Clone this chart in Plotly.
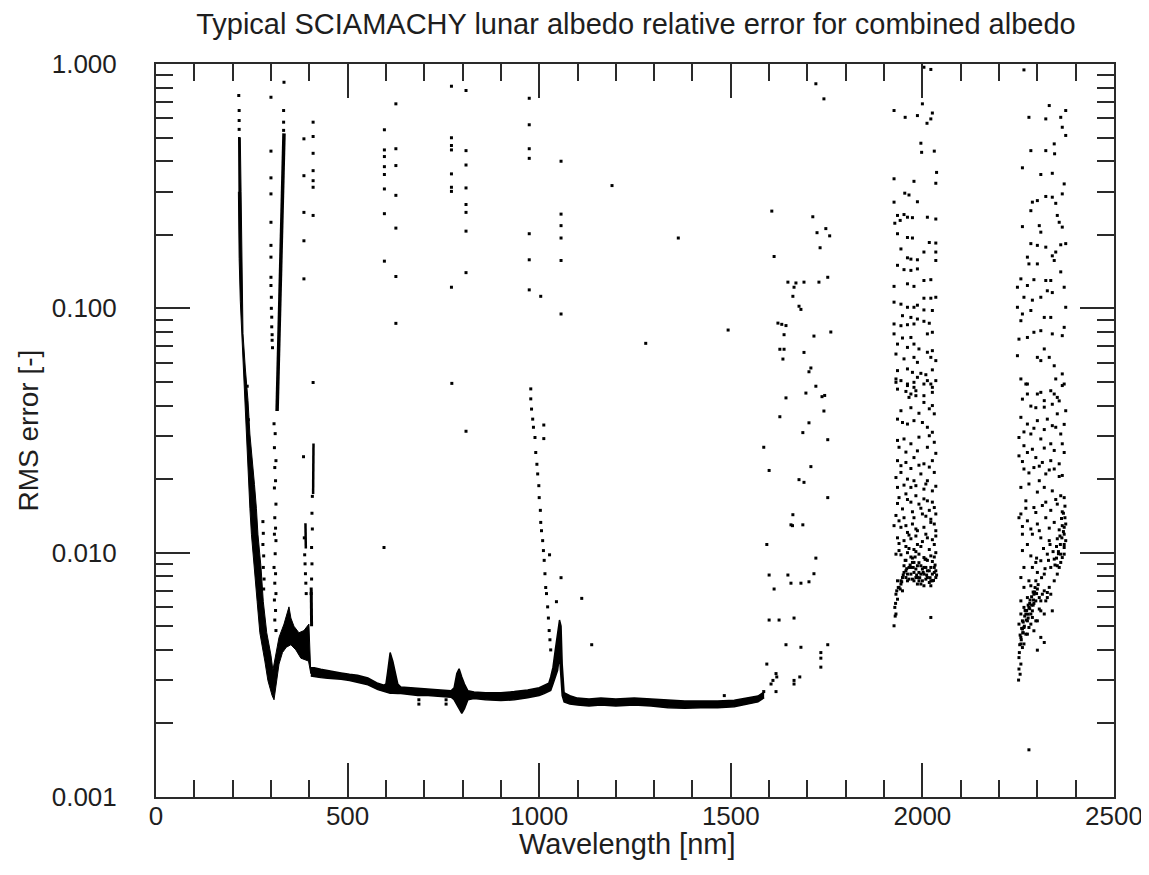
import plotly.graph_objects as go

# ---------------- data (wavelength nm, RMS error) ----------------
# dense UV envelope (left branch + 300-400 nm hump)
uv_env_nm = [214, 220, 222, 224, 227, 227, 233, 240, 245, 252, 257, 262, 266, 274, 280, 289, 300, 305,
             313, 321, 334, 342, 347, 352, 360, 373, 386, 399, 402, 404,
             404, 398, 378, 365, 352, 340, 330, 321, 313, 308, 303,
             298, 292, 284, 271, 264, 256, 249, 245, 242, 240, 236, 231, 227, 223, 220, 217, 215]
uv_env_err = [0.5, 0.5, 0.3, 0.16, 0.107, 0.079, 0.057, 0.042, 0.0306, 0.0237, 0.019, 0.0152, 0.0119, 0.0087, 0.0063, 0.0047, 0.0038, 0.0033,
              0.0038, 0.0045, 0.0051, 0.0056, 0.006, 0.0054, 0.005, 0.0047, 0.0048, 0.0051, 0.004, 0.0034,
              0.0032, 0.0036, 0.0037, 0.004, 0.0042, 0.0041, 0.0039, 0.0035, 0.0029, 0.0025, 0.0026,
              0.0028, 0.003, 0.0036, 0.0047, 0.0063, 0.0087, 0.0119, 0.0152, 0.019, 0.0237, 0.0306, 0.042, 0.057, 0.079, 0.107, 0.16, 0.3]

# dense baseline band 400-1590 nm
base_nm = [404, 413, 430, 448, 465, 483, 505, 526, 553, 579, 595, 600, 605, 611, 618, 625, 631, 639, 660, 683,
           710, 743, 770, 778, 785, 791, 798, 805, 814, 830, 860, 900, 935, 970, 1000, 1013, 1025, 1030, 1036,
           1042, 1048, 1053, 1057, 1060, 1065, 1080, 1100, 1130, 1161, 1200, 1248, 1292, 1336, 1380, 1422,
           1466, 1509, 1545, 1571, 1587]
base_hi = [0.00338, 0.00338, 0.00333, 0.0033, 0.00327, 0.00322, 0.00318, 0.00315, 0.00307, 0.00292, 0.00287, 0.0029,
           0.0033, 0.0039, 0.0036, 0.0032, 0.0029, 0.00282, 0.0028, 0.00279, 0.00277, 0.00274, 0.00272, 0.0028,
           0.0032, 0.00335, 0.0031, 0.0029, 0.00272, 0.00269, 0.00267, 0.00267, 0.0027, 0.00274, 0.0028, 0.00287,
           0.00292, 0.0031, 0.0034, 0.004, 0.0048, 0.0053, 0.005, 0.0035, 0.00267, 0.0026, 0.00254, 0.00252,
           0.00254, 0.00252, 0.00254, 0.00252, 0.00249, 0.00247, 0.00247, 0.00247, 0.00249, 0.00254, 0.00259, 0.00269]
base_lo = [0.00313, 0.00311, 0.00308, 0.00306, 0.00305, 0.00303, 0.003, 0.00294, 0.00288, 0.00275, 0.0027, 0.0027,
           0.00268, 0.00266, 0.00266, 0.00265, 0.00265, 0.00265, 0.00263, 0.0026, 0.0026, 0.00258, 0.00256, 0.0025,
           0.0024, 0.0023, 0.0022, 0.0023, 0.0025, 0.00253, 0.0025, 0.00248, 0.0025, 0.00255, 0.0026, 0.00265,
           0.0027, 0.00273, 0.0029, 0.0031, 0.0033, 0.0038, 0.003, 0.0026, 0.00245, 0.0024, 0.00238, 0.00236,
           0.00238, 0.00236, 0.00238, 0.00236, 0.00232, 0.00231, 0.00232, 0.00232, 0.00234, 0.00241, 0.00245, 0.00255]

# dense vertical streaks
colA_nm = [334, 333, 332, 330, 328, 326, 324, 321, 319, 317, 316]
colA_err = [0.52, 0.45, 0.35, 0.25, 0.18, 0.13, 0.1, 0.075, 0.055, 0.045, 0.038]
colB_nm = [411, 411, 410]
colB_err = [0.028, 0.022, 0.0174]
colC_nm = [390, 391]
colC_err = [0.0132, 0.0104]
colD_nm = [405, 406, 406]
colD_err = [0.0072, 0.006, 0.005]

# sparse points, UV
uv_nm = [216, 217, 217, 217, 334, 333, 333, 333,
         300, 300, 300, 300, 300, 300, 300, 300, 300, 301, 301, 302, 302, 303, 303, 304,
         308, 311, 309, 313, 310, 312, 309, 313, 310, 312, 309, 313, 311, 308, 312, 310, 313, 309, 312, 310, 313,
         279, 280, 279, 281, 280, 282, 281,
         386, 386, 386, 386, 386, 385, 387, 388, 389, 390, 391, 392,
         410, 410, 410, 410, 410, 410, 410, 410, 408, 407, 408, 406, 407, 406, 405,
         262, 266, 258, 270, 251, 247, 244, 241, 238]
uv_err = [0.743, 0.645, 0.587, 0.54, 0.842, 0.645, 0.578, 0.535,
          0.731, 0.44, 0.342, 0.294, 0.225, 0.181, 0.162, 0.134, 0.124, 0.111, 0.1, 0.092, 0.084, 0.078, 0.074, 0.069,
          0.0337, 0.0307, 0.0269, 0.0238, 0.0223, 0.0197, 0.0184, 0.0158, 0.0139, 0.0126, 0.0119, 0.0112, 0.0099,
          0.0087, 0.0082, 0.0075, 0.0068, 0.0064, 0.0058, 0.0053, 0.0048,
          0.0134, 0.012, 0.0108, 0.0097, 0.0087, 0.0078, 0.0071,
          0.494, 0.349, 0.247, 0.189, 0.132, 0.0247, 0.0115, 0.0098, 0.009, 0.0082, 0.0075, 0.0068,
          0.578, 0.505, 0.431, 0.366, 0.333, 0.313, 0.24, 0.0497, 0.017, 0.0145, 0.0125, 0.0105, 0.009, 0.0078, 0.0068,
          0.0092, 0.0081, 0.0125, 0.0066, 0.0175, 0.0215, 0.027, 0.035, 0.048]

# sparse points, visible / near-IR
vis_nm = [596, 596, 596, 596, 596, 596, 596, 596, 595,
          626, 626, 626, 626, 626, 626, 626,
          771, 771, 771, 771, 771, 771, 771, 771, 772,
          809, 809, 809, 809, 809, 809, 809, 809, 809,
          974, 974, 974, 974, 974, 974, 974, 1004,
          1057, 1057, 1057, 1057, 1057, 1057,
          1190, 1363, 1278, 1493,
          978, 978, 980, 983, 985, 989, 991, 994, 996, 999, 1000, 1003, 1004, 1006, 1009, 1011, 1013, 1015,
          1017, 1019, 1022, 1024, 1026, 1028, 1030,
          1012, 1012, 1027, 1057, 1045, 1111, 1137, 686, 686, 757, 757, 1483]
vis_err = [0.538, 0.445, 0.418, 0.38, 0.353, 0.308, 0.244, 0.156, 0.0105,
           0.687, 0.45, 0.384, 0.29, 0.213, 0.135, 0.0868,
           0.811, 0.499, 0.464, 0.445, 0.355, 0.313, 0.301, 0.122, 0.0493,
           0.779, 0.442, 0.386, 0.311, 0.266, 0.247, 0.207, 0.14, 0.0314,
           0.724, 0.564, 0.45, 0.411, 0.202, 0.158, 0.119, 0.112,
           0.4, 0.243, 0.218, 0.194, 0.157, 0.0948,
           0.318, 0.194, 0.0719, 0.0815,
           0.0468, 0.0426, 0.0387, 0.0352, 0.0326, 0.0296, 0.0257, 0.023, 0.021, 0.0188, 0.0168, 0.0149, 0.0133,
           0.0123, 0.0112, 0.0102, 0.0093, 0.0082, 0.0072, 0.0068, 0.006, 0.0054, 0.0048, 0.0044, 0.004,
           0.0333, 0.0293, 0.0098, 0.0079, 0.0063, 0.0065, 0.0042, 0.0025, 0.0024, 0.0025, 0.0024, 0.0026]

# sparse points 1580-1760 nm
nir_nm = [1722, 1743, 1607, 1714, 1725, 1748, 1758, 1733, 1613, 1649, 1670, 1691, 1730, 1753, 1665, 1662, 1678,
          1683, 1623, 1633, 1644, 1639, 1717, 1761, 1628, 1639, 1691, 1636, 1709, 1704, 1722, 1696, 1745, 1644,
          1738, 1743, 1628, 1704, 1688, 1753, 1586, 1709, 1600, 1678, 1691, 1753, 1662, 1661, 1657, 1688, 1594,
          1722, 1600, 1649, 1717, 1657, 1683, 1704, 1613, 1600, 1626, 1665, 1644, 1683, 1753, 1735, 1735, 1735,
          1594, 1618, 1610, 1665, 1665, 1680, 1618, 1586, 1620, 1605]
nir_err = [0.83, 0.72, 0.25, 0.237, 0.204, 0.212, 0.198, 0.177, 0.163, 0.128, 0.127, 0.128, 0.128, 0.134, 0.122,
           0.112, 0.102, 0.099, 0.087, 0.086, 0.085, 0.078, 0.077, 0.08, 0.068, 0.068, 0.066, 0.062, 0.057, 0.055,
           0.048, 0.045, 0.044, 0.043, 0.0435, 0.038, 0.036, 0.034, 0.031, 0.029, 0.027, 0.0225, 0.0217, 0.0199,
           0.0194, 0.0168, 0.0143, 0.0129, 0.013, 0.013, 0.0108, 0.0095, 0.0081, 0.0081, 0.0082, 0.0075, 0.0075,
           0.0076, 0.0071, 0.0053, 0.0053, 0.0054, 0.0042, 0.0041, 0.0042, 0.0039, 0.0037, 0.0034, 0.0035, 0.0032,
           0.003, 0.003, 0.0029, 0.0031, 0.0027, 0.0027, 0.0031, 0.0029]

# cluster 1920-2040 nm
sw1_nm = [2004, 2022, 2000, 1926, 1955, 1987, 2026, 2022, 2012, 1996, 1998, 2031, 2037, 1926, 1978, 2035, 1954,
          1965, 1926, 1987, 1935, 1952, 1961, 1974, 2013, 2035, 1928, 1942, 1935, 1961, 1974, 2018, 2035, 1944,
          2004, 2035, 1961, 1970, 1987, 2035, 1935, 1952, 1970, 1987, 2004, 2022, 1926, 1961, 1978, 2004, 2022,
          2035, 1926, 1944, 1961, 1978, 1987, 2004, 2026, 1948, 1970, 1987, 1926, 1944, 1961, 1978, 2004, 2018,
          2026, 2013, 1926, 1948, 1970, 1935, 1961, 1978, 1991, 2026, 2013, 1931, 1952, 1978, 1987, 2022, 2035,
          1935, 1961, 1974, 1996, 2009, 2026, 1931, 1944, 1961, 1978, 1987, 2013, 2022, 2035, 1935, 1957, 1970,
          1983, 2004, 2026,
          1931, 1961, 1978, 2004, 2026, 1965, 1983, 2004, 2026, 1935, 1948, 1961, 1978, 2000, 2013, 2026, 2031,
          1939, 1952, 1970, 1987, 2013, 2031, 1935, 1957, 1978, 2004, 2026, 1931, 1944, 1961, 1978, 1996, 2013,
          2031, 1935, 1970, 2004, 2026, 1939, 1957, 1970, 1991, 2013, 2031, 1931, 1952, 1978, 2000, 2022, 1926,
          1944, 1961, 1974, 1987, 2004, 2022, 2035, 1935, 1952, 1970, 1987, 2013, 2031, 1931, 1939, 1961, 1978,
          1991, 2004, 2022, 2035,
          1948, 1957, 1965, 1970, 1978, 1983, 1987, 1991, 1996, 2000, 2004, 2009, 2013, 2018, 2022, 2026, 2031,
          2035, 1952, 1961, 1974, 1987, 2004, 2022, 1978, 1996, 1952, 1961, 1970, 1978, 1983, 1991, 1996, 2000,
          2009, 2013, 2018, 2026, 2031, 2035, 1974, 1987, 2004, 2022, 1944, 1957, 1965,
          1935, 1939, 1931, 1935, 1928, 1931, 1926, 1933, 1944, 1948, 2022,
          1944, 1957, 1970, 1996, 2013, 2031, 1939, 1965, 1983, 2009, 2026, 1948, 1974, 1996, 2018, 2035, 1935,
          1961, 1983, 2004, 2026, 1952, 1983, 2009, 2035, 1944, 1970, 1991, 2018, 2035, 1957, 1935, 1991, 2018,
          1944, 1970, 1991, 2018,
          1957, 1974, 1991, 2009, 2026, 1965, 1983, 2000, 2018, 2035, 1939, 1957, 1983, 2009, 2031,
          1950, 1959, 1968, 1976, 1985, 1993, 2002, 2011, 2020, 2029, 2037, 1942, 1946, 1930, 1929, 1937, 1955,
          1981, 2007, 2033]
sw1_err = [0.97, 0.95, 0.687, 0.645, 0.605, 0.615, 0.63, 0.596, 0.572, 0.474, 0.435, 0.44, 0.36, 0.339, 0.331,
           0.325, 0.296, 0.291, 0.272, 0.273, 0.24, 0.242, 0.236, 0.235, 0.236, 0.232, 0.223, 0.229, 0.202, 0.195,
           0.194, 0.186, 0.185, 0.175, 0.17, 0.17, 0.161, 0.159, 0.158, 0.157, 0.15, 0.144, 0.143, 0.145, 0.13,
           0.131, 0.123, 0.126, 0.123, 0.11, 0.11, 0.111, 0.106, 0.104, 0.101, 0.101, 0.103, 0.0985, 0.098, 0.0933,
           0.0918, 0.0904, 0.0863, 0.0849, 0.0857, 0.0863, 0.0885, 0.0869, 0.0798, 0.0786, 0.0786, 0.0756, 0.076,
           0.0714, 0.0692, 0.0714, 0.0682, 0.0671, 0.0661, 0.065, 0.0621, 0.063, 0.0601, 0.063, 0.0611, 0.0556,
           0.0565, 0.0547, 0.0542, 0.0535, 0.056, 0.0514, 0.0506, 0.049, 0.0498, 0.0522, 0.0506, 0.049, 0.0506,
           0.0467, 0.0457, 0.0446, 0.046, 0.0439, 0.0453,
           0.0498, 0.0483, 0.0475, 0.049, 0.0475, 0.0432, 0.0439, 0.0412, 0.04, 0.0352, 0.0341, 0.0336, 0.0347,
           0.0341, 0.0326, 0.0311, 0.037, 0.027, 0.0292, 0.0279, 0.0261, 0.027, 0.0283, 0.0238, 0.0234, 0.0245,
           0.0231, 0.0238, 0.0203, 0.0213, 0.02, 0.0197, 0.021, 0.0197, 0.0213, 0.0185, 0.0185, 0.0182, 0.0179,
           0.0168, 0.0174, 0.0161, 0.0158, 0.0163, 0.0153, 0.0142, 0.0139, 0.0139, 0.0144, 0.0137, 0.0129, 0.0127,
           0.0121, 0.0131, 0.0123, 0.0127, 0.0133, 0.0123, 0.0115, 0.0112, 0.0114, 0.0108, 0.0115, 0.0108, 0.00986,
           0.0102, 0.01, 0.0103, 0.00986, 0.00955, 0.0097, 0.01,
           0.00791, 0.00843, 0.0087, 0.00817, 0.00912, 0.00857, 0.00791, 0.0083, 0.00884, 0.00767, 0.00817, 0.0087,
           0.00791, 0.00843, 0.00767, 0.00817, 0.0087, 0.00791, 0.00884, 0.00767, 0.00779, 0.00744, 0.00732,
           0.00732, 0.00767, 0.00744, 0.0083, 0.00817, 0.0087, 0.0083, 0.00791, 0.00767, 0.00817, 0.00857, 0.00779,
           0.00843, 0.00755, 0.00767, 0.0083, 0.00843, 0.00912, 0.00884, 0.0087, 0.0087, 0.00767, 0.00791, 0.00779,
           0.00767, 0.00721, 0.00676, 0.00645, 0.00597, 0.00561, 0.00502, 0.00698, 0.00744, 0.00698, 0.00543,
           0.0098, 0.0106, 0.0096, 0.0106, 0.0093, 0.0096, 0.0109, 0.0118, 0.0117, 0.0119, 0.0113, 0.0151, 0.0147,
           0.0152, 0.0149, 0.0144, 0.0159, 0.0165, 0.0171, 0.0166, 0.0161, 0.0189, 0.0188, 0.0191, 0.0187, 0.0227,
           0.0221, 0.0228, 0.0224, 0.0255, 0.0258, 0.0288, 0.0297, 0.0301, 0.0381, 0.0392, 0.0372, 0.0388,
           0.0093, 0.0095, 0.0091, 0.0094, 0.0092, 0.0104, 0.0101, 0.0111, 0.0103, 0.0117, 0.0135, 0.0129, 0.0125,
           0.0141, 0.0131,
           0.0081, 0.0086, 0.0089, 0.0087, 0.0081, 0.0079, 0.0083, 0.0081, 0.0079, 0.0077, 0.0081, 0.0071, 0.0076,
           0.0062, 0.0055, 0.0072, 0.0093, 0.0096, 0.0094, 0.0089]

# cluster 2245-2380 nm
sw2_nm = [2265, 2331, 2374, 2322, 2278, 2361, 2365, 2374, 2283, 2322, 2344, 2345, 2261, 2309, 2339, 2370, 2365,
          2322, 2339, 2348, 2300, 2287, 2283, 2352, 2357, 2365, 2261, 2305, 2309, 2283, 2300, 2322, 2348, 2361,
          2374, 2274, 2278, 2300, 2344, 2339, 2257, 2291, 2322, 2335, 2361, 2370, 2339, 2248, 2274, 2265, 2287,
          2309, 2326, 2248, 2261, 2283, 2318, 2335, 2374, 2257, 2291, 2309, 2339, 2365, 2370, 2252, 2274, 2318,
          2331, 2248, 2300, 2309, 2344, 2365, 2257, 2274, 2309, 2335, 2348, 2370, 2274, 2352,
          2270, 2300, 2318, 2344, 2365, 2374, 2352, 2318, 2257, 2274, 2300, 2326, 2348, 2361, 2252, 2283, 2309,
          2335, 2365, 2265, 2252, 2274, 2296, 2313, 2335, 2357, 2370, 2265, 2291, 2322, 2344, 2365, 2305, 2257,
          2278, 2300, 2318, 2339, 2361, 2270, 2291, 2313, 2335, 2352, 2370, 2257, 2252, 2274, 2300, 2322, 2344,
          2365, 2370, 2261, 2287, 2309, 2331, 2352, 2370, 2274, 2261, 2283, 2296, 2309, 2326, 2344, 2361, 2370,
          2265, 2287, 2300, 2318, 2335, 2352, 2361, 2257, 2278, 2296, 2265, 2283, 2300, 2318, 2326, 2335, 2309,
          2291, 2274, 2257, 2265, 2287, 2305, 2318, 2339, 2296, 2283, 2274, 2252, 2261, 2270, 2278, 2291, 2300,
          2309, 2318, 2257, 2265, 2300, 2261, 2252, 2257, 2252, 2255, 2251,
          2344, 2352, 2357, 2365, 2370, 2374, 2374, 2370, 2331, 2326, 2322, 2257, 2261, 2270, 2278, 2287, 2291,
          2296, 2305, 2313, 2309, 2274, 2283, 2265, 2257, 2253, 2278,
          2261, 2283, 2305, 2331, 2357, 2270, 2296, 2322, 2348, 2365, 2278, 2305, 2331, 2357, 2261, 2287, 2318,
          2344, 2265, 2291, 2318, 2339, 2370, 2283, 2339, 2357, 2261, 2296,
          2268, 2280, 2293, 2302, 2311, 2320, 2329, 2341, 2350, 2359, 2263, 2276, 2289, 2298, 2316, 2333, 2355,
          2255, 2259, 2263, 2267, 2272, 2276, 2281, 2285, 2289, 2294, 2254, 2258, 2262, 2266, 2271, 2276, 2280,
          2285, 2290, 2298, 2346, 2350, 2355, 2360, 2364, 2368, 2372, 2368, 2372, 2363]
sw2_err = [0.946, 0.676, 0.645, 0.596, 0.605, 0.605, 0.551, 0.51, 0.442, 0.442, 0.471, 0.429, 0.376, 0.353,
           0.357, 0.323, 0.294, 0.287, 0.285, 0.269, 0.276, 0.272, 0.251, 0.24, 0.225, 0.215, 0.216, 0.218, 0.205,
           0.184, 0.181, 0.178, 0.17, 0.182, 0.184, 0.162, 0.152, 0.152, 0.157, 0.164, 0.132, 0.131, 0.13, 0.13,
           0.141, 0.122, 0.116, 0.122, 0.124, 0.111, 0.108, 0.111, 0.118, 0.101, 0.0948, 0.098, 0.0918, 0.0918,
           0.101, 0.089, 0.0798, 0.081, 0.0786, 0.0773, 0.0836, 0.0748, 0.076, 0.0682, 0.063, 0.064, 0.063, 0.0611,
           0.0582, 0.0539, 0.0514, 0.049, 0.0453, 0.046, 0.0514, 0.049, 0.0446, 0.0432,
           0.049, 0.0446, 0.0419, 0.0446, 0.0483, 0.0381, 0.037, 0.0394, 0.0358, 0.0336, 0.0347, 0.0352, 0.0326,
           0.0306, 0.0296, 0.0306, 0.0292, 0.0279, 0.0279, 0.0274, 0.0249, 0.0257, 0.0245, 0.0234, 0.0238, 0.0231,
           0.0257, 0.022, 0.0223, 0.021, 0.022, 0.0207, 0.0197, 0.0185, 0.0191, 0.0177, 0.0185, 0.0179, 0.0171,
           0.0163, 0.0153, 0.0156, 0.0149, 0.0158, 0.0168, 0.0144, 0.0139, 0.0135, 0.0131, 0.0139, 0.0133, 0.0129,
           0.0119, 0.0119, 0.0119, 0.0115, 0.0112, 0.0114, 0.0108, 0.0108, 0.0102, 0.0097, 0.00912, 0.00927,
           0.00986, 0.00941, 0.00986, 0.0105, 0.0087, 0.0087, 0.0083, 0.00817, 0.0087, 0.00884, 0.00912, 0.00791,
           0.00767, 0.00767, 0.00721, 0.00732, 0.0071, 0.00698, 0.00655, 0.00676, 0.00635, 0.00676, 0.00655,
           0.00635, 0.00597, 0.00578, 0.00588, 0.00561, 0.00578, 0.00526, 0.00561, 0.00526, 0.0051, 0.00487,
           0.00464, 0.00494, 0.00479, 0.00526, 0.0045, 0.00429, 0.0045, 0.00423, 0.00399, 0.00409, 0.00372,
           0.0035, 0.00334, 0.00318, 0.00301,
           0.00767, 0.00817, 0.0087, 0.00955, 0.00986, 0.0112, 0.0131, 0.0127, 0.00721, 0.00687, 0.00635, 0.00561,
           0.00526, 0.00561, 0.00597, 0.00543, 0.0062, 0.00635, 0.00655, 0.00676, 0.00578, 0.00464, 0.0051,
           0.00494, 0.00423, 0.0039, 0.00156,
           0.0128, 0.0125, 0.0123, 0.0126, 0.0124, 0.0152, 0.0146, 0.0161, 0.0165, 0.0147, 0.0212, 0.0226, 0.0218,
           0.0205, 0.0236, 0.0265, 0.0268, 0.0262, 0.0312, 0.0323, 0.0319, 0.0331, 0.0335, 0.0398, 0.0405, 0.0418,
           0.0425, 0.0392,
           0.0058, 0.0062, 0.0069, 0.0074, 0.0079, 0.0086, 0.0093, 0.0101, 0.0106, 0.0117, 0.0047, 0.0054, 0.0061,
           0.0095, 0.0104, 0.0108, 0.0099,
           0.0046, 0.0049, 0.0052, 0.0055, 0.0058, 0.0061, 0.0064, 0.0066, 0.0069, 0.0072, 0.0042, 0.0044, 0.0047,
           0.005, 0.0053, 0.0056, 0.0059, 0.0061, 0.0064, 0.0068, 0.0089, 0.0095, 0.0101, 0.0108, 0.0115, 0.0122,
           0.0139, 0.0145, 0.0155, 0.0138]

x_tick_vals = [0, 500, 1000, 1500, 2000, 2500]
x_tick_text = ["0", "500", "1000", "1500", "2000", "2500"]
y_tick_vals = [0.001, 0.01, 0.1, 1.0]
y_tick_text = ["0.001", "0.010", "0.100", "1.000"]

# ---------------- figure ----------------
INK = "black"
FRAME = "#2a2a2a"
TXT = "#1e1e1e"
FONT = "Liberation Sans, Arial, sans-serif"

fig = go.Figure()

fig.add_trace(go.Scatter(x=uv_env_nm, y=uv_env_err, mode="lines", fill="toself", fillcolor=INK,
                         line=dict(color=INK, width=1), hoverinfo="skip"))
fig.add_trace(go.Scatter(x=base_nm, y=base_lo, mode="lines", line=dict(color=INK, width=1.5), hoverinfo="skip"))
fig.add_trace(go.Scatter(x=base_nm, y=base_hi, mode="lines", fill="tonexty", fillcolor=INK,
                         line=dict(color=INK, width=1.5), hoverinfo="skip"))

for cx, cy, w in [(colA_nm, colA_err, 3.5), (colB_nm, colB_err, 2.5), (colC_nm, colC_err, 2.5), (colD_nm, colD_err, 3)]:
    fig.add_trace(go.Scatter(x=cx, y=cy, mode="lines", line=dict(color=INK, width=w), hoverinfo="skip"))

mk = dict(symbol="square", size=3, color=INK, line=dict(width=0))
for sx, sy in [(uv_nm, uv_err), (vis_nm, vis_err), (nir_nm, nir_err), (sw1_nm, sw1_err), (sw2_nm, sw2_err)]:
    fig.add_trace(go.Scatter(x=sx, y=sy, mode="markers", marker=mk))

y_minor = [m * 10.0 ** e for e in (-3, -2, -1) for m in range(2, 10)]

fig.update_layout(
    width=1149, height=875,
    margin=dict(l=148, r=43, t=56, b=86, autoexpand=False),
    paper_bgcolor="white", plot_bgcolor="white",
    showlegend=False,
    font=dict(family=FONT, color=TXT),
    title=dict(text="Typical SCIAMACHY lunar albedo relative error for combined albedo",
               x=0.5465, xanchor="center", y=0.994, yanchor="top", pad=dict(t=0, b=0),
               font=dict(size=29, family=FONT, color=TXT)),
    xaxis=dict(range=[0, 2500], tickvals=x_tick_vals, ticktext=x_tick_text, automargin=False,
               ticks="inside", ticklen=34, tickwidth=1.5, tickcolor=FRAME,
               minor=dict(ticks="inside", ticklen=17, tickwidth=1.5, tickcolor=FRAME, dtick=100, showgrid=False),
               showline=True, linecolor=FRAME, linewidth=2, mirror="ticks",
               showgrid=False, zeroline=False, ticklabelstandoff=-5,
               tickfont=dict(size=26, family=FONT, color=TXT)),
    yaxis=dict(type="log", range=[-3, 0], tickvals=y_tick_vals, ticktext=y_tick_text, automargin=False,
               ticks="inside", ticklen=34, tickwidth=1.5, tickcolor=FRAME,
               minor=dict(ticks="inside", ticklen=17, tickwidth=1.5, tickcolor=FRAME, tickvals=y_minor, showgrid=False),
               showline=True, linecolor=FRAME, linewidth=2, mirror="ticks",
               showgrid=False, zeroline=False, ticklabelstandoff=32,
               tickfont=dict(size=26, family=FONT, color=TXT)),
    annotations=[
        dict(text="Wavelength [nm]", xref="paper", yref="paper", x=0.492, y=-0.064,
             xanchor="center", yanchor="middle", showarrow=False, font=dict(size=29, family=FONT, color=TXT)),
        dict(text="RMS error [-]", xref="paper", yref="paper", x=-0.1326, y=0.5,
             xanchor="center", yanchor="middle", textangle=-90, showarrow=False,
             font=dict(size=28, family=FONT, color=TXT)),
    ],
)

fig.write_html("out.html")
